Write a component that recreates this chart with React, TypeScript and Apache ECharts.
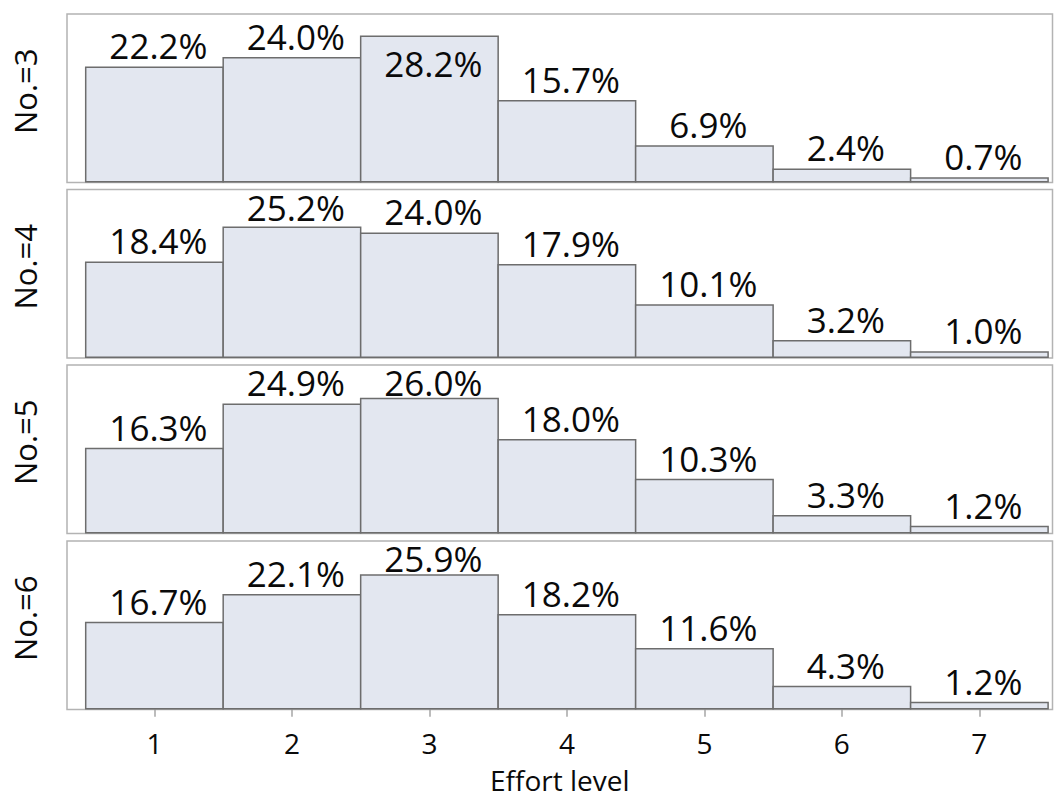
import React, { useEffect, useRef } from "react";
import * as echarts from "echarts";

const levels = [1, 2, 3, 4, 5, 6, 7];
const panelLabels = ["No.=3", "No.=4", "No.=5", "No.=6"];
const no3 = [22.2, 24.0, 28.2, 15.7, 6.9, 2.4, 0.7];
const no4 = [18.4, 25.2, 24.0, 17.9, 10.1, 3.2, 1.0];
const no5 = [16.3, 24.9, 26.0, 18.0, 10.3, 3.3, 1.2];
const no6 = [16.7, 22.1, 25.9, 18.2, 11.6, 4.3, 1.2];
const panels = [no3, no4, no5, no6];
const axisTitle = "Effort level";

const FONT = "'Open Sans', 'Noto Sans', sans-serif";
const X_MIN = 0.364;
const X_MAX = 7.532;
const Y_MIN = -0.15;
const Y_MAX = 32.5;
const GRID_TOPS = [14, 189.5, 365, 541];
const GRID_H = 168.5;
const GRID_LEFT = 67;
const GRID_W = 985.5;

export default function App() {
  const ref = useRef<HTMLDivElement>(null);
  useEffect(() => {
    if (!ref.current) return;
    const chart = echarts.init(ref.current, null, { renderer: "svg" });

    const renderItem = (params: any, api: any) => {
      const x = api.value(0);
      const y = api.value(1);
      const p0 = api.coord([x - 0.5, 0]);
      const p1 = api.coord([x + 0.5, y]);
      const frameTop = api.coord([x, Y_MAX])[1];
      const barTop = p1[1];
      const cx = (p0[0] + p1[0]) / 2 + 4;
      let baseline = Math.max(barTop - 9, frameTop + 30);
      if (baseline > barTop - 1) baseline = barTop + 40;
      return {
        type: "group",
        children: [
          {
            type: "rect",
            shape: { x: p0[0], y: barTop, width: p1[0] - p0[0], height: p0[1] - barTop },
            style: { fill: "#e3e7f0", stroke: "#6d6d6d", lineWidth: 1.5 },
          },
          {
            type: "text",
            x: cx,
            y: baseline - 12.5,
            style: {
              text: y.toFixed(1) + "%",
              fontSize: 35,
              fontFamily: FONT,
              fill: "#0a0a0a",
              align: "center",
              verticalAlign: "middle",
            },
            z2: 10,
          },
        ],
      };
    };

    const grids = GRID_TOPS.map((t) => ({
      left: GRID_LEFT,
      top: t,
      width: GRID_W,
      height: GRID_H,
      show: true,
      borderColor: "#b3b3b3",
      borderWidth: 1.5,
      backgroundColor: "#fff",
    }));

    const xAxes = GRID_TOPS.map((_, i) => {
      const last = i === GRID_TOPS.length - 1;
      return {
        type: "value",
        gridIndex: i,
        min: X_MIN,
        max: X_MAX,
        axisLine: { show: false },
        splitLine: { show: false },
        axisTick: {
          show: last,
          customValues: levels,
          length: 8,
          lineStyle: { color: "#a6a6a6", width: 1.5 },
        },
        axisLabel: {
          show: last,
          customValues: levels,
          fontSize: 28,
          lineHeight: 30,
          fontFamily: FONT,
          color: "#0a0a0a",
          margin: 18,
        },
        name: last ? axisTitle : "",
        nameLocation: "middle",
        nameGap: 57.5,
        nameTextStyle: { fontSize: 28, lineHeight: 26, fontFamily: FONT, color: "#0a0a0a" },
      };
    });

    const yAxes = GRID_TOPS.map((_, i) => ({
      type: "value",
      gridIndex: i,
      min: Y_MIN,
      max: Y_MAX,
      show: false,
    }));

    const series = panels.map((vals, i) => ({
      type: "custom",
      xAxisIndex: i,
      yAxisIndex: i,
      renderItem,
      clip: false,
      data: levels.map((l, j) => [l, vals[j]]),
    }));

    const graphic = panelLabels.map((txt, i) => ({
      type: "text",
      x: 24.5,
      y: GRID_TOPS[i] + GRID_H / 2 - 7,
      rotation: Math.PI / 2,
      style: {
        text: txt,
        fontSize: 31,
        fontFamily: FONT,
        fill: "#0a0a0a",
        align: "center",
        verticalAlign: "middle",
      },
    }));

    chart.setOption({
      animation: false,
      backgroundColor: "#fff",
      grid: grids,
      xAxis: xAxes,
      yAxis: yAxes,
      series,
      graphic,
    });
    return () => chart.dispose();
  }, []);

  return (
    <div
      ref={ref}
      style={{ position: "fixed", left: 0, top: 0, width: 1054, height: 799 }}
    />
  );
}
